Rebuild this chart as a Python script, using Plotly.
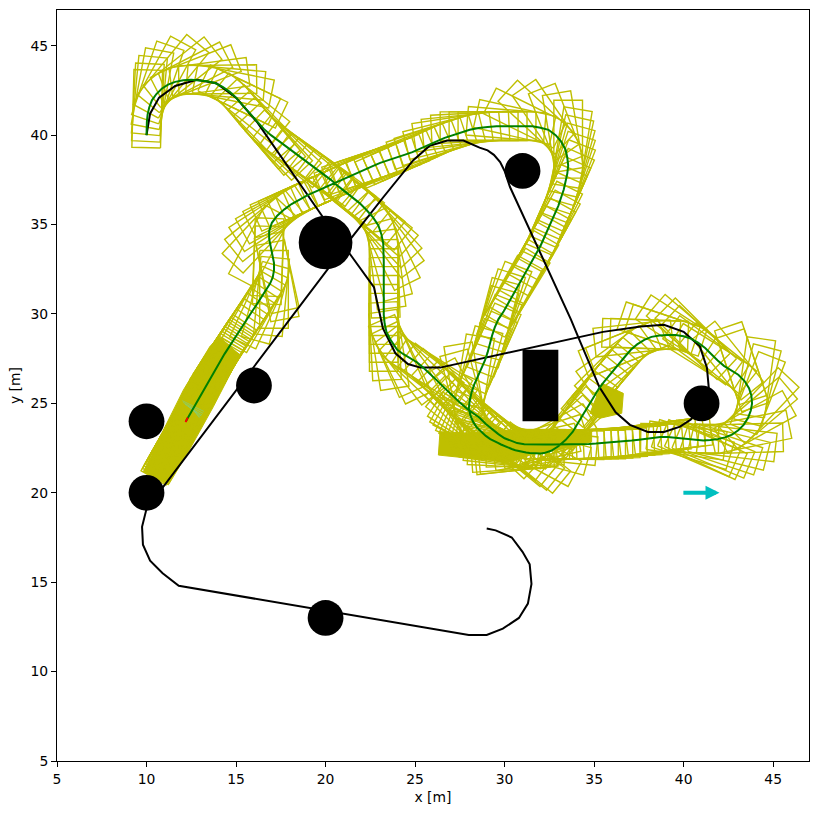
import math
import plotly.graph_objects as go

# Green reference path, leg by leg.
leg1_x = [10.00,10.00,10.02,10.06,10.15,10.30,10.55,10.85,11.2,11.6,12.05,12.5,12.95,13.4,13.85,14.25,14.65,15.0,15.3,15.6,15.9,16.2,16.55,16.95,17.35,17.75,18.15,18.6,19.05,19.45,19.9,20.3,20.7,21.1,21.5,21.9,22.3,22.65,22.95,23.12,23.22,23.25,23.25,23.25,23.25,23.25,23.25,23.25,23.25,23.3]
leg1_y = [40.00,40.35,40.75,41.15,41.55,41.95,42.3,42.6,42.83,42.98,43.07,43.1,43.08,43.02,42.9,42.7,42.42,42.1,41.75,41.4,41.05,40.7,40.35,40.0,39.7,39.4,39.1,38.8,38.45,38.15,37.8,37.5,37.15,36.85,36.5,36.2,35.8,35.4,34.95,34.45,33.95,33.45,32.95,32.45,31.95,31.45,30.95,30.45,29.95,29.45]
leg1_yaw = [0] * 50

leg2_x = [23.4,23.6,23.8,24.0,24.35,24.7,25.1,25.45,25.85,26.2,26.55,26.9,27.2,27.55,27.9,28.25,28.6,28.95,29.3,29.65,30.0,30.35,30.7,31.1,31.5,31.9,32.3,32.7,33.1,33.5,33.9,34.3,34.7,35.1,35.5,35.9,36.3,36.7,37.1,37.5,37.9,38.3,38.7,39.1,39.5,39.9,40.3,40.7,41.1,41.5,41.9,42.3,42.7,43.05,43.35,43.6,43.75,43.82]
leg2_y = [29.0,28.6,28.3,28.0,27.75,27.55,27.3,27.0,26.65,26.3,25.95,25.6,25.3,25.0,24.7,24.45,24.2,23.85,23.55,23.28,23.05,22.9,22.78,22.72,22.7,22.7,22.7,22.7,22.7,22.7,22.7,22.72,22.73,22.75,22.78,22.8,22.82,22.87,22.92,22.97,23.02,23.07,23.12,23.12,23.08,23.02,22.97,22.92,22.92,22.95,23.0,23.1,23.25,23.5,23.8,24.2,24.6,25.0]
# Vehicle yaw minus path tangent, degrees, estimated from the box fans.
leg2_yaw = [0,0,0,0,0,0,0,0,0,0,0,0,0,0,0,0,0,0,0,-5,-10,-18,-15,-8,-3,0,0,0,0,0,0,0,0,0,0,0,0,0,0,0,0,-6,-10,-15,-18,-18,-17,-16,-15,-13,-10,-8,0,0,0,0,0,0]

leg3_x = [43.78,43.65,43.4,43.05,42.65,42.25,41.9,41.55,41.2,40.8,40.4,40.0,39.55,39.1,38.65,38.2,37.8,37.4,37.05,36.75,36.45,36.15,35.85,35.55,35.25,34.95,34.7,34.4,34.15,33.8,33.4,33.0,32.6,32.2]
leg3_y = [25.45,25.85,26.25,26.6,26.85,27.1,27.4,27.75,28.1,28.4,28.62,28.75,28.82,28.82,28.8,28.72,28.55,28.3,28.0,27.65,27.3,26.95,26.6,26.2,25.8,25.35,24.9,24.4,23.95,23.4,22.95,22.6,22.35,22.22]
leg3_yaw = [0,0,0,0,0,0,0,0,0,0,0,0,0,0,0,0,0,0,0,0,0,0,0,0,0,-5,-10,-17,-30,-35,-32,-28,-20,-10]

leg4_x = [32.0,31.8,31.6,31.4,31.2,31.0,30.8,30.6,30.4,30.2,30.0,29.8,29.6,29.4,29.2,28.95,28.7,28.45,28.25,28.1,28.0,28.05,28.15,28.3,28.5,28.7,28.9,29.05,29.15,29.3,29.45,29.65,29.95,30.2,30.5,30.75,31.0,31.25,31.5,31.75,32.0,32.2,32.4,32.6,32.8,33.0,33.15,33.3,33.4,33.5,33.55,33.5,33.4,33.15,32.85,32.45]
leg4_y = [22.2,22.2,22.2,22.22,22.25,22.28,22.33,22.38,22.45,22.52,22.6,22.7,22.8,22.9,23.0,23.18,23.4,23.65,23.95,24.3,24.7,25.15,25.6,26.05,26.5,26.95,27.4,27.85,28.3,28.8,29.25,29.7,30.15,30.6,31.1,31.55,32.0,32.45,32.9,33.35,33.8,34.25,34.7,35.15,35.6,36.05,36.5,36.95,37.4,37.85,38.3,38.75,39.2,39.65,40.0,40.3]
leg4_yaw = [0] * 56

leg5_x = [32.0,31.55,31.05,30.55,30.05,29.55,29.05,28.55,28.05,27.55,27.1,26.65,26.2,25.75,25.3,24.85,24.4,23.95,23.5,23.05,22.6,22.15,21.7,21.25,20.8,20.35,19.9,19.45,19.0,18.55,18.1,17.7,17.3,17.0,16.85,16.85,16.95,17.05,17.12,17.12,17.05,16.9,16.72,16.5,16.3,16.1,15.9,15.7,15.5,15.3,15.1]
leg5_y = [40.42,40.5,40.5,40.5,40.5,40.5,40.45,40.4,40.3,40.15,40.0,39.85,39.65,39.45,39.25,39.05,38.9,38.75,38.6,38.45,38.25,38.05,37.85,37.65,37.45,37.25,37.05,36.85,36.65,36.4,36.15,35.85,35.5,35.1,34.65,34.2,33.75,33.3,32.85,32.45,32.05,31.7,31.4,31.1,30.75,30.45,30.15,29.85,29.55,29.25,28.95]
leg5_yaw = [0] * 51

leg6_x = [15.0,14.92,14.84,14.76,14.68,14.6,14.52,14.44,14.36,14.28,14.2,14.12,14.04,13.96,13.88,13.8,13.72,13.64,13.56,13.48,13.4,13.32,13.24,13.16,13.08,13.0,12.92,12.84,12.76,12.68,12.6,12.52,12.44,12.36,12.28,12.2]
leg6_y = [28.8,28.67,28.55,28.42,28.29,28.16,28.03,27.9,27.77,27.64,27.5,27.36,27.22,27.08,26.94,26.8,26.66,26.52,26.38,26.24,26.1,25.96,25.82,25.68,25.54,25.4,25.26,25.12,24.98,24.84,24.7,24.56,24.42,24.28,24.14,24.0]
leg6_yaw = [0] * 36

# Outlines of the areas where the footprints merge into solid yellow.
solid_a_x = [9.82,11.22,12.34,13.73,15.22,14.1,13.55,12.06,10.94]
solid_a_y = [21.18,20.44,22.3,24.81,27.7,28.7,28.2,25.75,23.5]
solid_b_x = [26.39,26.30,28.90,30.39,31.7,33.37,34.86,34.86,33.37,30.76,28.16]
solid_b_y = [23.42,22.11,21.84,21.74,22.21,22.49,22.86,23.42,23.55,23.55,23.33]
solid_c_x = [35.42,36.63,36.54,35.33,34.77]
solid_c_y = [26.12,25.56,24.45,24.17,24.45]

# Black polyline from the lower end to the upper-left start.
black_x = [29.0,29.5,30.4,31.0,31.4,31.5,31.3,30.8,29.9,29.0,28.0,11.8,10.9,10.2,9.8,9.75,10.0,21.4,23.2,24.9,25.8,26.8,27.7,28.6,29.05,29.4,29.75,30.0,30.3,32.7,33.7,34.2,35.3,36.2,37.0,38.0,38.9,39.8,40.4,41.0,41.4,41.3,40.9,40.0,38.9,37.6,35.5,26.4,25.3,24.6,23.9,23.2,23.0,22.7,21.4,20.0,16.2,15.0,13.9,12.8,11.6,10.7,10.2,10.0]
black_y = [18.0,17.9,17.5,16.7,16.0,14.9,13.8,13.0,12.4,12.05,12.05,14.8,15.5,16.2,17.1,18.1,19.1,34.2,36.5,38.6,39.4,39.7,39.7,39.3,39.15,38.9,38.5,38.0,37.1,31.9,29.7,28.5,25.9,24.5,23.8,23.4,23.4,23.7,24.1,25.0,25.9,27.0,28.2,29.0,29.4,29.3,29.0,27.0,27.0,27.2,27.8,29.2,30.2,31.5,33.3,35.2,40.7,42.1,42.9,43.1,42.75,42.1,41.2,40.0]

# Obstacles.
circle_x = [10, 20, 31, 41, 16, 10, 20]
circle_y = [20, 34, 38, 25, 26, 24, 13]
circle_r = [1, 1.5, 1, 1, 1, 1, 1]
block_x = [31, 33]
block_y = [24, 28]

# Goal arrow (tail, head).
arrow_x = [39.9, 42]
arrow_y = [20, 20]

# Small thin marks at the end of the path.
end_green_x0 = [12.0, 12.05, 12.15, 12.3, 12.45, 12.6]
end_green_y0 = [25.15, 25.05, 24.95, 24.85, 24.75, 24.65]
end_green_x1 = [13.2, 13.15, 13.1, 13.05, 13.0, 12.95]
end_green_y1 = [24.55, 24.45, 24.35, 24.3, 24.25, 24.2]
end_red_x = [12.18, 12.3]
end_red_y = [23.95, 24.2]

# Footprint box relative to the path point (along, across), in metres.
box_rear = 0.7
box_front = 3.65
box_half = 0.8

YELLOW = "#bfbf00"

path_x = leg1_x + leg2_x + leg3_x + leg4_x + leg5_x + leg6_x
path_y = leg1_y + leg2_y + leg3_y + leg4_y + leg5_y + leg6_y
path_yaw = leg1_yaw + leg2_yaw + leg3_yaw + leg4_yaw + leg5_yaw + leg6_yaw
assert len(path_x) == len(path_y) == len(path_yaw)
assert len(black_x) == len(black_y)


def heading(i, reach=0.45):
    a = i
    while a > 0 and math.hypot(path_x[a] - path_x[i], path_y[a] - path_y[i]) < reach:
        a -= 1
    b = i
    while b < len(path_x) - 1 and math.hypot(path_x[b] - path_x[i], path_y[b] - path_y[i]) < reach:
        b += 1
    return math.atan2(path_y[b] - path_y[a], path_x[b] - path_x[a]) + math.radians(path_yaw[i])


box_x, box_y = [], []
for i in range(len(path_x)):
    th = heading(i)
    c, s = math.cos(th), math.sin(th)
    for u, v in [(-box_rear, -box_half), (box_front, -box_half), (box_front, box_half),
                 (-box_rear, box_half), (-box_rear, -box_half)]:
        box_x.append(path_x[i] + u * c - v * s)
        box_y.append(path_y[i] + u * s + v * c)
    box_x.append(None)
    box_y.append(None)

end_x, end_y = [], []
for a, b, c, d in zip(end_green_x0, end_green_y0, end_green_x1, end_green_y1, strict=True):
    end_x += [a, c, None]
    end_y += [b, d, None]

fig = go.Figure()
for sx, sy in [(solid_a_x, solid_a_y), (solid_b_x, solid_b_y), (solid_c_x, solid_c_y)]:
    fig.add_trace(go.Scatter(x=sx + sx[:1], y=sy + sy[:1], mode="lines", fill="toself", fillcolor=YELLOW,
                             line=dict(color=YELLOW, width=1), hoverinfo="skip", name="solid footprint"))
fig.add_trace(go.Scatter(x=box_x, y=box_y, mode="lines", line=dict(color=YELLOW, width=1.4),
                         hoverinfo="skip", name="footprint"))
fig.add_trace(go.Scatter(x=end_x, y=end_y, mode="lines", line=dict(color="#7fd07f", width=0.7),
                         hoverinfo="skip", name="end marks"))
fig.add_trace(go.Scatter(x=black_x, y=black_y, mode="lines", line=dict(color="black", width=2),
                         name="reference"))
fig.add_trace(go.Scatter(x=path_x, y=path_y, mode="lines", line=dict(color="#008000", width=2),
                         name="path"))
fig.add_trace(go.Scatter(x=end_red_x, y=end_red_y, mode="lines", line=dict(color="red", width=2),
                         name="end"))

for cx, cy, r in zip(circle_x, circle_y, circle_r, strict=True):
    fig.add_shape(type="circle", xref="x", yref="y", x0=cx - r, x1=cx + r, y0=cy - r, y1=cy + r,
                  fillcolor="black", line=dict(color="black", width=0), layer="above")
fig.add_shape(type="rect", xref="x", yref="y", x0=block_x[0], x1=block_x[1], y0=block_y[0], y1=block_y[1],
              fillcolor="black", line=dict(color="black", width=0), layer="above")

fig.add_annotation(x=arrow_x[1], y=arrow_y[1], ax=arrow_x[0], ay=arrow_y[0], xref="x", yref="y",
                   axref="x", ayref="y", text="", showarrow=True, arrowhead=2, arrowsize=0.7,
                   arrowwidth=4, arrowcolor="#00bfbf", standoff=0, startstandoff=0)

axis = dict(range=[5, 47], tickmode="array", tickvals=[5, 10, 15, 20, 25, 30, 35, 40, 45],
            showgrid=False, zeroline=False, showline=True, mirror=True, linecolor="black", linewidth=1,
            ticks="outside", ticklen=5, tickwidth=1, tickcolor="black",
            tickfont=dict(family="DejaVu Sans", size=13.9, color="black"))
fig.update_xaxes(**axis, title=dict(text="x [m]", font=dict(family="DejaVu Sans", size=13.9, color="black"), standoff=6))
fig.update_yaxes(**axis, title=dict(text="y [m]", font=dict(family="DejaVu Sans", size=13.9, color="black"), standoff=6))
fig.update_layout(width=817, height=814, margin=dict(l=57, r=8, t=10, b=53, autoexpand=False),
                  paper_bgcolor="white", plot_bgcolor="white", showlegend=False)

fig.write_html("out.html", config=dict(displayModeBar=False),
               post_script="document.body.style.margin='0';")
